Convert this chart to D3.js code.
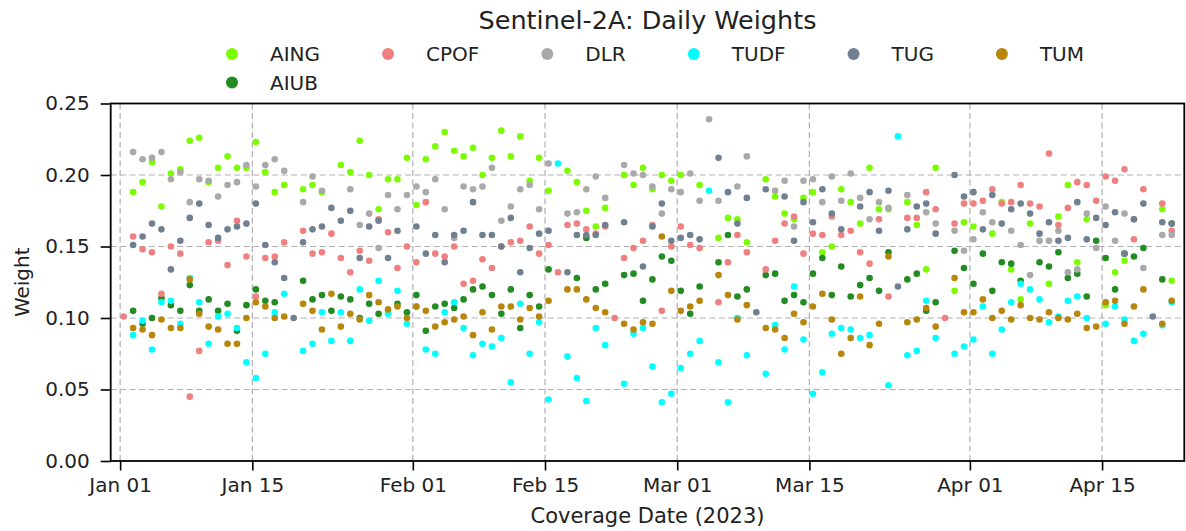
<!DOCTYPE html>
<html>
<head>
<meta charset="utf-8">
<script src="https://cdn.jsdelivr.net/npm/d3@7"></script>
<style>
  html, body { margin: 0; padding: 0; background: #fff; }
  svg { display: block; font-family: 'DejaVu Sans', sans-serif; }
</style>
</head>
<body>
<svg id="chart" width="1186" height="531"></svg>
<script>
// One value per day from Jan 01 2023 (index 0) to Apr 22 2023 (index 111); null = no weight that day
const firstDay = '2023-01-01';
const obsHour  = 9;

const aing = [null,0.188,0.195,0.209,0.178,0.201,0.204,0.224,0.226,0.195,0.205,0.213,0.205,0.205,0.223,0.202,
  0.188,0.193,null,0.190,0.193,0.188,null,0.207,0.202,0.224,0.200,0.176,0.197,0.197,0.212,0.179,
  0.211,0.220,0.230,0.217,0.213,0.219,0.200,0.212,0.231,0.213,0.227,0.196,0.212,0.189,null,0.203,
  0.195,0.175,0.164,0.177,null,0.200,0.193,0.205,0.190,0.200,0.196,0.200,null,0.193,null,0.156,
  0.170,0.169,0.153,null,0.197,0.185,0.173,0.169,0.184,0.188,0.146,0.150,0.190,0.181,0.166,0.205,
  0.176,0.176,null,0.181,0.165,0.134,0.205,null,0.119,0.167,0.164,null,0.159,0.181,0.134,0.113,
  0.166,null,0.124,0.171,0.193,0.139,0.169,null,0.109,0.132,0.140,null,null,null,0.176,0.126];

const aiub = [null,0.105,0.096,0.100,0.114,0.109,0.105,0.123,0.105,0.113,0.105,0.110,0.091,0.109,0.120,0.112,
  0.111,null,null,0.126,0.113,0.116,0.105,0.115,0.113,0.100,0.110,0.103,null,0.110,0.104,0.116,
  0.091,0.108,0.110,0.107,0.113,0.120,0.122,0.116,0.103,0.120,0.093,0.116,0.108,0.134,null,null,
  0.128,0.156,0.120,0.124,null,0.130,0.131,0.112,0.127,0.143,0.140,0.119,0.103,0.122,null,0.139,
  0.158,0.115,0.120,null,0.130,0.131,0.112,0.116,0.111,0.131,0.142,0.116,0.136,0.115,0.123,0.128,
  0.119,0.146,null,0.127,0.131,0.105,0.111,null,0.147,0.135,0.124,0.145,0.119,0.139,0.138,0.126,
  null,0.139,0.136,0.146,0.128,0.131,0.115,0.154,0.142,0.120,0.145,0.143,0.149,null,0.127,0.166];

const cpof = [0.101,0.157,0.148,0.146,0.117,0.150,0.145,0.045,0.077,0.153,0.154,0.137,0.168,0.143,0.115,0.142,
  0.143,0.153,null,0.161,0.145,0.146,0.159,0.142,0.132,0.147,0.140,0.169,0.160,0.135,0.150,0.139,
  0.181,0.145,0.143,0.150,0.124,0.126,0.141,0.135,0.150,0.153,0.154,0.164,0.145,0.151,0.132,0.165,
  0.166,0.162,0.159,0.164,0.100,0.142,0.149,0.154,0.165,0.105,0.150,0.164,0.151,0.149,null,0.111,
  0.139,0.158,0.146,null,0.134,0.154,0.166,0.171,0.145,0.159,0.158,0.171,0.158,0.161,0.146,0.138,
  0.169,0.115,null,0.170,0.170,0.188,0.176,0.100,0.166,0.180,0.180,0.182,0.190,0.180,0.181,0.193,
  0.180,0.178,0.215,0.165,0.177,0.195,0.193,0.182,0.199,0.196,0.204,0.155,0.190,null,0.180,0.161];

const dlr = [null,0.216,0.211,0.212,0.216,0.197,0.202,0.181,0.197,0.196,0.185,0.193,0.195,0.207,0.192,0.207,
  0.211,0.203,null,0.181,0.199,0.189,null,null,0.190,0.165,0.173,0.149,0.186,0.176,0.186,0.192,
  0.188,0.197,0.176,0.156,0.192,0.190,0.192,0.205,0.168,0.178,0.190,0.193,0.176,0.208,null,0.173,
  0.174,0.190,0.199,0.184,null,0.207,0.201,0.200,0.192,0.173,0.190,0.188,0.201,0.182,0.239,0.182,
  null,0.192,0.213,null,null,0.189,0.196,0.164,0.196,0.197,0.181,0.199,0.182,0.201,0.184,0.169,
  0.181,0.177,null,0.186,null,0.174,0.166,null,0.161,0.147,0.155,0.174,0.167,null,0.161,0.151,
  0.130,0.154,0.154,0.161,0.132,0.134,0.173,0.149,0.178,0.154,0.173,0.169,0.135,null,0.158,0.158];

const tudf = [null,0.088,0.098,0.078,0.111,0.112,0.096,0.128,0.111,0.082,0.101,0.103,0.093,0.069,0.058,0.075,
  0.104,0.117,null,0.077,0.082,0.104,0.084,0.104,0.084,0.120,0.098,0.126,0.103,0.119,0.096,0.108,
  0.078,0.075,0.104,0.111,0.093,0.074,0.082,0.080,0.086,0.055,0.110,0.075,0.097,0.043,0.208,0.073,
  0.058,0.042,0.093,0.081,null,0.054,0.089,0.093,0.066,0.041,0.047,0.065,0.075,0.084,0.189,0.069,
  0.041,0.100,0.074,null,0.061,0.095,0.078,0.122,0.085,0.047,0.062,0.089,0.093,0.092,0.086,0.088,
  null,0.053,0.227,0.074,0.077,0.112,0.086,null,0.075,0.080,0.085,0.108,0.075,0.092,0.111,0.124,
  0.120,0.113,0.097,0.101,0.112,0.115,0.100,null,0.096,0.108,0.099,0.084,0.089,null,0.095,0.111];

const tug = [null,0.151,0.157,0.166,0.162,0.134,0.154,0.170,0.180,0.165,0.156,0.162,0.164,0.166,0.180,0.151,
  0.139,0.128,0.100,0.153,0.162,0.164,0.177,0.168,0.175,0.142,0.164,0.168,0.142,0.161,null,0.164,
  0.145,0.158,0.139,0.158,0.161,0.181,0.158,0.158,0.150,0.170,0.132,0.149,0.159,0.161,null,0.132,
  0.158,0.158,0.158,0.165,null,0.167,null,0.136,0.164,0.180,0.154,0.156,0.158,0.155,null,0.212,
  0.188,0.166,0.184,0.104,0.190,null,0.185,0.154,0.181,0.167,0.190,0.173,0.162,null,0.178,0.188,
  0.161,0.189,0.122,0.162,0.178,0.180,0.159,null,0.200,0.185,0.188,0.162,0.186,0.166,0.176,0.180,
  0.173,0.159,0.167,0.154,0.156,0.181,0.155,0.170,0.165,0.174,0.145,0.169,0.180,0.101,0.167,0.166];

const tum = [null,0.093,0.092,0.088,0.099,0.093,0.093,0.127,0.103,0.094,0.092,0.082,0.082,0.100,0.111,0.108,
  0.100,0.101,null,0.110,0.105,0.092,0.117,0.094,0.103,0.099,0.116,0.111,0.106,0.108,0.100,0.108,
  0.105,0.094,0.097,0.099,0.101,0.088,0.104,0.092,0.108,0.108,0.099,0.107,0.101,0.112,null,0.120,
  0.120,0.113,0.107,0.104,null,0.096,0.092,0.097,0.096,0.157,0.119,0.105,0.108,0.112,null,0.130,
  0.116,0.099,0.109,null,0.093,0.092,0.086,0.103,0.097,0.108,0.117,0.099,0.075,0.086,0.115,0.081,
  0.096,0.143,null,0.097,0.099,0.107,0.094,null,0.128,0.104,0.104,0.113,0.100,0.105,0.099,0.109,
  0.100,0.099,0.104,0.100,0.099,0.103,0.093,0.094,0.111,0.112,0.096,0.108,0.120,null,0.096,0.112];

const seriesNames  = ['AING', 'AIUB', 'CPOF', 'DLR', 'TUDF', 'TUG', 'TUM'];
const seriesValues = [aing, aiub, cpof, dlr, tudf, tug, tum];
const seriesColors = ['#7cfc00', '#228b22', '#f08080', '#a9a9a9', '#00ffff', '#708090', '#b8860b'];

const xTickDates = ['2023-01-01', '2023-01-15', '2023-02-01', '2023-02-15',
                    '2023-03-01', '2023-03-15', '2023-04-01', '2023-04-15'];
const yTicks = [0, 0.05, 0.10, 0.15, 0.20, 0.25];

(function () {
  const W = 1186, H = 531;
  const margin = { top: 103.5, right: 1.7, bottom: 70, left: 110.7 };
  const w = W - margin.left - margin.right;
  const h = H - margin.top - margin.bottom;
  const parse = d3.timeParse('%Y-%m-%d');
  const start = parse(firstDay);

  const svg = d3.select('#chart');

  const x = d3.scaleTime()
    .domain([d3.timeDay.offset(start, -1), d3.timeHour.offset(d3.timeDay.offset(start, 112), 17)])
    .range([margin.left, W - margin.right]);
  const y = d3.scaleLinear().domain([0, 0.25]).range([margin.top + h, margin.top]);

  const dayDate = i => d3.timeHour.offset(d3.timeDay.offset(start, i), obsHour);

  // Dashed grid
  const grid = svg.append('g').attr('stroke', '#b0b0b0').attr('stroke-width', 1.2)
    .attr('stroke-dasharray', '6,3.5');
  grid.selectAll('.gx').data(xTickDates.map(parse)).join('line')
    .attr('x1', d => x(d)).attr('x2', d => x(d))
    .attr('y1', margin.top).attr('y2', margin.top + h);
  grid.selectAll('.gy').data(yTicks.slice(1, -1)).join('line')
    .attr('x1', margin.left).attr('x2', W - margin.right)
    .attr('y1', d => y(d)).attr('y2', d => y(d));

  // Points, alphabetical draw order
  seriesNames.forEach((name, s) => {
    const pts = seriesValues[s].map((v, i) => ({ t: dayDate(i), v })).filter(d => d.v != null);
    svg.append('g').selectAll('circle').data(pts).join('circle')
      .attr('cx', d => x(d.t))
      .attr('cy', d => y(d.v))
      .attr('r', 3.3)
      .attr('fill', seriesColors[s]);
  });

  // Axes
  const xAxis = svg.append('g')
    .attr('transform', `translate(0,${margin.top + h})`)
    .call(d3.axisBottom(x).tickValues(xTickDates.map(parse)).tickFormat(d3.timeFormat('%b %d'))
      .tickSize(9.5).tickPadding(7));
  const yAxis = svg.append('g')
    .attr('transform', `translate(${margin.left},0)`)
    .call(d3.axisLeft(y).tickValues(yTicks).tickFormat(d3.format('.2f')).tickSize(10).tickPadding(11));

  [xAxis, yAxis].forEach(g => {
    g.select('.domain').remove();
    g.selectAll('.tick line').attr('stroke', '#000').attr('stroke-width', 1.6);
    g.selectAll('text').attr('fill', '#222').attr('font-size', '20px')
      .attr('font-family', "'DejaVu Sans', sans-serif");
  });

  // Frame
  svg.append('rect')
    .attr('x', margin.left).attr('y', margin.top).attr('width', w).attr('height', h)
    .attr('fill', 'none').attr('stroke', '#000').attr('stroke-width', 1.8);

  // Title and axis labels
  svg.append('text').attr('x', margin.left + w / 2).attr('y', 29)
    .attr('text-anchor', 'middle').attr('font-size', '25.5px').attr('fill', '#222')
    .text('Sentinel-2A: Daily Weights');
  svg.append('text').attr('x', margin.left + w / 2).attr('y', 523)
    .attr('text-anchor', 'middle').attr('font-size', '21px').attr('fill', '#222')
    .text('Coverage Date (2023)');
  svg.append('text').attr('transform', `translate(29,${margin.top + h / 2}) rotate(-90)`)
    .attr('text-anchor', 'middle').attr('font-size', '20px').attr('fill', '#222')
    .text('Weight');

  // Legend: 6 columns, filled column by column like matplotlib
  const ncol = 6;
  const cols = [];
  let k = 0;
  for (let c = 0; c < ncol; c++) {
    const n = Math.ceil((seriesNames.length - k) / (ncol - c));
    cols.push(d3.range(k, k + n));
    k += n;
  }
  const legend = svg.append('g');
  let cx = 232;
  cols.forEach(col => {
    let maxW = 0;
    col.forEach((s, row) => {
      const yy = 54 + row * 28.5;
      legend.append('circle').attr('cx', cx).attr('cy', yy).attr('r', 6).attr('fill', seriesColors[s]);
      const t = legend.append('text').attr('x', cx + 38).attr('y', yy).attr('dy', '0.35em')
        .attr('font-size', '20px').attr('fill', '#222').text(seriesNames[s]);
      maxW = Math.max(maxW, t.node().getComputedTextLength());
    });
    cx += maxW + 106;
  });
})();
</script>
</body>
</html>
